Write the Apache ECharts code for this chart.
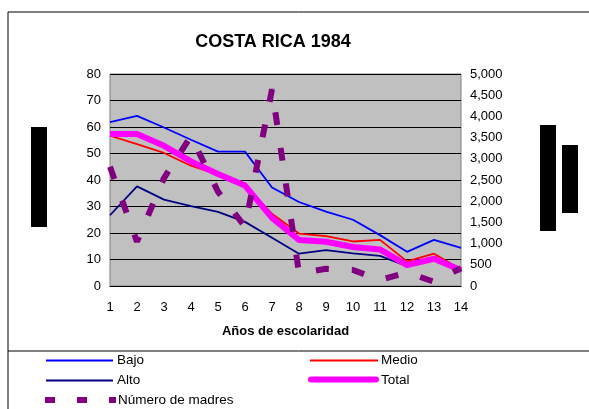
<!DOCTYPE html>
<html>
<head>
<meta charset="utf-8">
<script src="https://cdn.jsdelivr.net/npm/echarts@6/dist/echarts.min.js"></script>
<style>html,body{margin:0;padding:0;background:#fff;}#c{width:589px;height:409px;}</style>
</head>
<body>
<div id="c"></div>
<script>
const categories = ['1','2','3','4','5','6','7','8','9','10','11','12','13','14'];
const bajo  = [61.8, 64.2, 59.8, 55.2, 50.7, 50.7, 37.2, 31.7, 28.1, 25.0, 19.2, 12.9, 17.4, 14.4];
const medio = [56.7, 53.5, 50.2, 45.4, 42.0, 37.9, 27.3, 19.8, 18.8, 16.8, 17.4, 9.3, 12.2, 6.3];
const alto  = [26.7, 37.6, 32.6, 30.1, 28.0, 24.2, 18.2, 12.2, 13.5, 12.3, 11.4, 7.5, 9.9, 5.6];
const total = [57.4, 57.4, 52.9, 47.0, 42.3, 37.9, 25.7, 17.4, 16.7, 14.7, 13.8, 7.9, 10.3, 5.9];
const madres = [2814, 1045, 2547, 3538, 2224, 1400, 4639, 300, 407, 376, 141, 320, 100, 420];
const seriesNames = ['Bajo', 'Medio', 'Alto', 'Total', 'Número de madres'];
const titleText = 'COSTA RICA 1984';
const xAxisTitle = 'Años de escolaridad';

const FONT = '"Liberation Sans", Arial, sans-serif';
const chart = echarts.init(document.getElementById('c'));

function legendLine(x1, x2, y, color, w, cap) {
  return { type: 'line', shape: { x1: x1, y1: y, x2: x2, y2: y },
    style: { stroke: color, lineWidth: w, lineCap: cap || 'butt' }, silent: true };
}
function legendText(x, y, t) {
  return { type: 'text', x: x, y: y,
    style: { text: t, font: '13.5px ' + FONT, fill: '#000', textVerticalAlign: 'middle' }, silent: true };
}

chart.setOption({
  animation: false,
  backgroundColor: '#fff',
  title: {
    text: titleText, left: 268, top: 28, textAlign: 'center',
    textStyle: { fontFamily: FONT, fontSize: 18, fontWeight: 'bold', color: '#000' }
  },
  grid: { left: 110, top: 74, width: 351, height: 212, show: true,
    backgroundColor: '#c0c0c0', borderColor: '#808080', borderWidth: 1 },
  xAxis: {
    type: 'category', data: categories, boundaryGap: false,
    axisLine: { show: true, lineStyle: { color: '#000', width: 1 } },
    axisTick: { show: false },
    axisLabel: { color: '#000', fontFamily: FONT, fontSize: 13, margin: 15 },
    name: xAxisTitle, nameLocation: 'middle', nameGap: 39,
    nameTextStyle: { fontFamily: FONT, fontSize: 13, fontWeight: 'bold', color: '#000' }
  },
  yAxis: [
    { type: 'value', min: 0, max: 80, interval: 10,
      axisLine: { show: false }, axisTick: { show: false },
      axisLabel: { color: '#000', fontFamily: FONT, fontSize: 13, margin: 9 },
      splitLine: { show: true, lineStyle: { color: '#000', width: 1 } } },
    { type: 'value', min: 0, max: 5000, interval: 500, position: 'right',
      axisLine: { show: false }, axisTick: { show: false },
      axisLabel: { color: '#000', fontFamily: FONT, fontSize: 13, margin: 9,
        formatter: v => v.toLocaleString('en-US') },
      splitLine: { show: false } }
  ],
  series: [
    { name: seriesNames[0], type: 'line', data: bajo, symbol: 'none',
      lineStyle: { color: '#0000ff', width: 1.8 } },
    { name: seriesNames[1], type: 'line', data: medio, symbol: 'none',
      lineStyle: { color: '#ff0000', width: 1.8 } },
    { name: seriesNames[2], type: 'line', data: alto, symbol: 'none',
      lineStyle: { color: '#000080', width: 1.8 } },
    { name: seriesNames[3], type: 'line', data: total, symbol: 'none',
      lineStyle: { color: '#ff00ff', width: 6, join: 'round' } },
    { name: seriesNames[4], type: 'line', data: madres, yAxisIndex: 1, symbol: 'none',
      lineStyle: { color: '#800080', width: 6, type: [13, 23] } }
  ],
  graphic: [
    { type: 'line', shape: { x1: 8, y1: 12, x2: 589, y2: 12 }, style: { stroke: '#000', lineWidth: 1 }, silent: true },
    { type: 'line', shape: { x1: 8, y1: 12, x2: 8, y2: 409 }, style: { stroke: '#000', lineWidth: 1 }, silent: true },
    { type: 'line', shape: { x1: 8, y1: 351, x2: 589, y2: 351 }, style: { stroke: '#000', lineWidth: 1 }, silent: true },
    { type: 'rect', shape: { x: 31, y: 127, width: 16, height: 100 }, style: { fill: '#000' }, silent: true },
    { type: 'rect', shape: { x: 540, y: 125, width: 16, height: 106 }, style: { fill: '#000' }, silent: true },
    { type: 'rect', shape: { x: 562, y: 145, width: 16, height: 68 }, style: { fill: '#000' }, silent: true },
    legendLine(46, 113, 360.5, '#0000ff', 2),
    legendText(117, 360, seriesNames[0]),
    legendLine(310, 378, 360.5, '#ff0000', 2),
    legendText(381, 360, seriesNames[1]),
    legendLine(46, 113, 380.5, '#000080', 2),
    legendText(117, 380, seriesNames[2]),
    legendLine(311, 376, 379.5, '#ff00ff', 6, 'round'),
    legendText(381, 380, seriesNames[3]),
    legendLine(45, 116, 400, '#800080', 6),
    { type: 'rect', shape: { x: 55, y: 396, width: 22, height: 8 }, style: { fill: '#fff' }, silent: true },
    { type: 'rect', shape: { x: 87, y: 396, width: 22, height: 8 }, style: { fill: '#fff' }, silent: true },
    legendText(118, 400, seriesNames[4])
  ]
});
</script>
</body>
</html>
